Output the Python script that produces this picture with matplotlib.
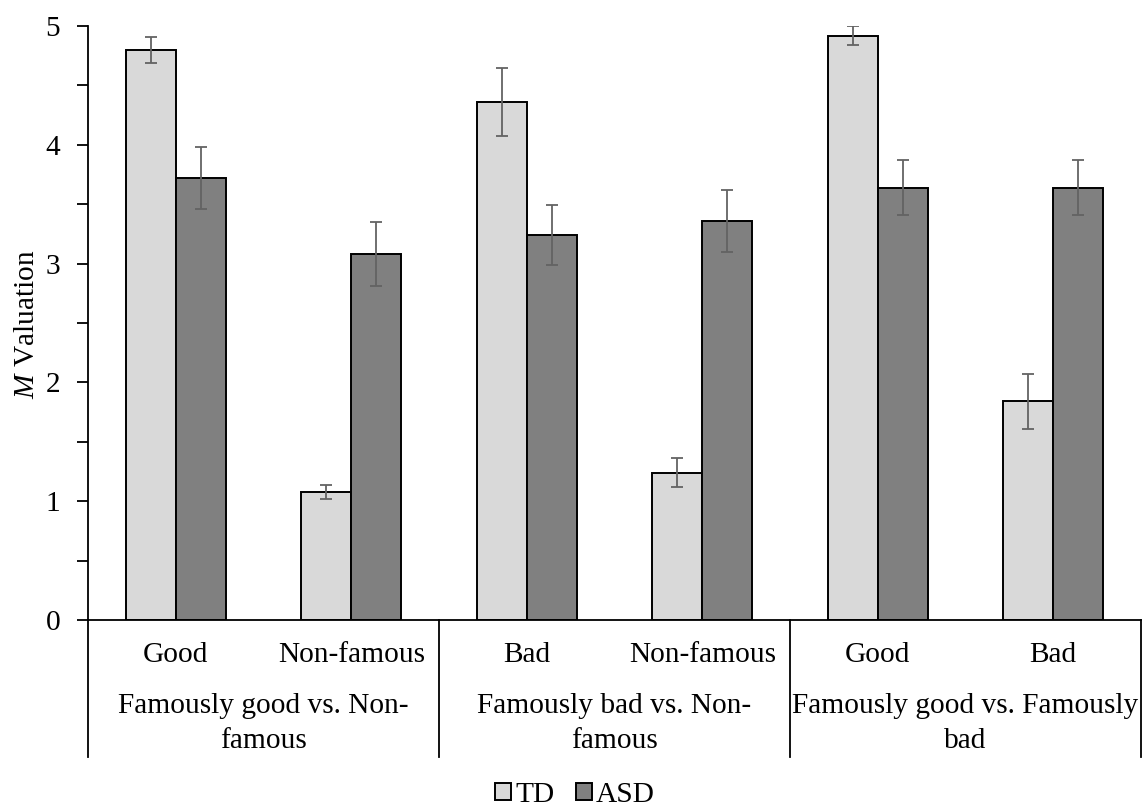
import matplotlib
matplotlib.use("Agg")
import matplotlib.pyplot as plt
import numpy as np
from matplotlib.ticker import MultipleLocator

plt.rcParams['font.family'] = ['Liberation Serif', 'DejaVu Serif']
plt.rcParams['mathtext.fontset'] = 'custom'
plt.rcParams['mathtext.it'] = 'Liberation Serif:italic'
plt.rcParams['mathtext.rm'] = 'Liberation Serif'

categories = ["Good", "Non-famous", "Bad", "Non-famous", "Good", "Bad"]
groups = ["Famously good vs. Non-\nfamous", "Famously bad vs. Non-\nfamous",
          "Famously good vs. Famously\nbad"]
td_values = [4.80, 1.08, 4.36, 1.24, 4.92, 1.84]
td_err = [0.11, 0.06, 0.29, 0.12, 0.08, 0.23]
asd_values = [3.72, 3.08, 3.24, 3.36, 3.64, 3.64]
asd_err = [0.26, 0.27, 0.25, 0.26, 0.23, 0.23]
series_names = ["TD", "ASD"]

W, H = 1143, 806
fig = plt.figure(figsize=(W / 100, H / 100), dpi=100)
ax = fig.add_axes([88 / W, 1 - 620 / H, (1141 - 88) / W, (620 - 26) / H])

x = np.arange(len(categories))
bw = 0.285
fs = 21.2
ekw = dict(ecolor='#636363', elinewidth=1.3, capsize=4.3, capthick=1.3)
ax.bar(x - bw / 2, td_values, bw, color='#d9d9d9', edgecolor='black', linewidth=1.4,
       yerr=td_err, error_kw=ekw, label=series_names[0], zorder=2)
ax.bar(x + bw / 2, asd_values, bw, color='#808080', edgecolor='black', linewidth=1.4,
       yerr=asd_err, error_kw=ekw, label=series_names[1], zorder=2)

ax.set_xlim(-0.5, len(categories) - 0.5)
ax.set_ylim(0, 5)
ax.yaxis.set_major_locator(MultipleLocator(1))
ax.yaxis.set_minor_locator(MultipleLocator(0.5))
ax.tick_params(axis='y', which='both', length=8, width=1.3, direction='out',
               labelsize=fs, pad=12)
ax.set_xticks([])
for s in ['top', 'right']:
    ax.spines[s].set_visible(False)
ax.spines['left'].set_linewidth(1.3)
ax.spines['bottom'].set_linewidth(1.3)

trans = ax.get_xaxis_transform()
depth = -137 / 594
for b in [-0.5, 1.5, 3.5, 5.5]:
    ax.plot([b, b], [0, depth], transform=trans, color='black', lw=1.3, clip_on=False)

for i, c in enumerate(categories):
    ax.text(i, -0.059, c, transform=trans, ha='center', va='center', fontsize=fs)
for g, name in enumerate(groups):
    ax.text(2 * g + 0.5, -0.174, name, transform=trans, ha='center', va='center',
            fontsize=fs, linespacing=1.45, multialignment='center')

fig.text(27 / W, 1 - 324 / H, r'$M$ Valuation', rotation=90, ha='center', va='center',
         fontsize=fs)

handles, labels = ax.get_legend_handles_labels()
leg = fig.legend(handles, labels, loc='center', bbox_to_anchor=(575 / W, 1 - 795 / H),
                 ncol=2, frameon=False, fontsize=fs, handlelength=0.55, handleheight=0.55,
                 handletextpad=0.12, columnspacing=0.75, borderpad=0)

fig.savefig('out.png', dpi=100)
